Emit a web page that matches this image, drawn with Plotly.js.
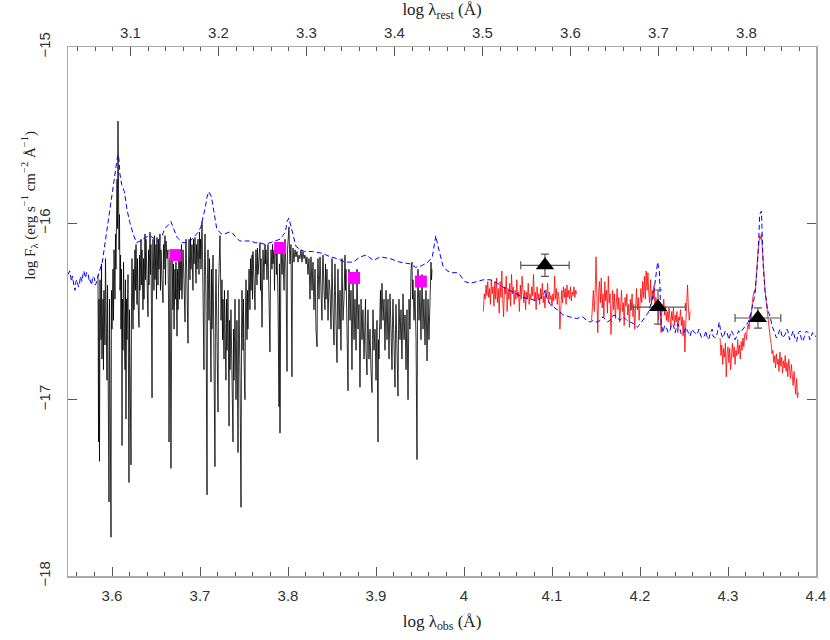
<!DOCTYPE html>
<html>
<head>
<meta charset="utf-8">
<script src="https://cdn.plot.ly/plotly-3.0.1.min.js"></script>
<style>html,body{margin:0;padding:0;background:#fff;}#chart{width:830px;height:640px;}</style>
</head>
<body>
<div id="chart"></div>
<script>
// Observed optical spectrum (log lambda_obs, log F_lambda)
const blackSpec = [
[3.5841,-16.29],[3.5847,-17.24],[3.5852,-16.43],[3.5858,-17.35],[3.5864,-16.32],[3.5875,-16.66],[3.5881,-16.23],[3.5886,-16.77],[3.5898,-16.43],[3.5903,-16.83],
[3.5909,-16.38],[3.5920,-16.69],[3.5926,-16.20],[3.5932,-16.60],[3.5943,-16.89],[3.5949,-16.35],[3.5955,-16.66],[3.5966,-17.58],[3.5972,-16.43],[3.5977,-16.72],
[3.5989,-17.78],[3.5994,-16.38],[3.6000,-16.60],[3.6011,-16.26],[3.6017,-16.55],[3.6023,-16.15],[3.6034,-16.43],[3.6040,-16.06],[3.6045,-16.26],[3.6057,-15.75],
[3.6063,-16.03],[3.6068,-15.42],[3.6074,-15.81],[3.6080,-16.15],[3.6085,-15.95],[3.6091,-16.38],[3.6097,-16.18],[3.6102,-16.60],[3.6108,-16.26],[3.6114,-17.26],
[3.6119,-16.43],[3.6125,-16.72],[3.6131,-16.22],[3.6136,-16.55],[3.6148,-16.83],[3.6153,-16.32],[3.6159,-17.11],[3.6165,-16.43],[3.6170,-16.66],[3.6182,-16.29],
[3.6188,-16.77],[3.6193,-17.47],[3.6199,-16.49],[3.6205,-16.89],[3.6216,-17.37],[3.6222,-16.43],[3.6227,-16.20],[3.6239,-16.60],[3.6244,-16.26],[3.6250,-16.49],
[3.6261,-16.15],[3.6267,-16.38],[3.6273,-16.12],[3.6284,-16.46],[3.6290,-16.20],[3.6295,-16.43],[3.6307,-16.59],[3.6313,-16.18],[3.6318,-16.38],[3.6330,-16.09],
[3.6335,-16.35],[3.6341,-16.15],[3.6352,-16.49],[3.6358,-16.20],[3.6364,-16.43],[3.6375,-16.06],[3.6381,-16.32],[3.6386,-16.09],[3.6398,-16.43],[3.6409,-16.53],
[3.6415,-16.15],[3.6420,-16.35],[3.6432,-16.05],[3.6438,-16.29],[3.6443,-16.12],[3.6455,-16.99],[3.6460,-16.26],[3.6466,-16.09],[3.6477,-16.38],[3.6483,-16.07],
[3.6489,-16.32],[3.6500,-16.12],[3.6506,-16.43],[3.6511,-16.08],[3.6523,-16.35],[3.6528,-16.09],[3.6534,-16.26],[3.6545,-16.06],[3.6551,-16.38],[3.6557,-16.15],
[3.6568,-16.32],[3.6580,-16.45],[3.6585,-16.12],[3.6591,-16.26],[3.6602,-16.07],[3.6608,-16.35],[3.6614,-16.10],[3.6625,-16.20],[3.6636,-16.15],[3.6642,-16.43],
[3.6648,-17.24],[3.6653,-16.38],[3.6659,-16.20],[3.6670,-17.39],[3.6676,-16.32],[3.6682,-16.18],[3.6693,-16.49],[3.6699,-16.23],[3.6705,-16.60],[3.6716,-16.26],
[3.6722,-16.43],[3.6727,-16.22],[3.6739,-16.64],[3.6744,-16.26],[3.6750,-16.49],[3.6761,-16.18],[3.6767,-16.43],[3.6773,-16.15],[3.6784,-16.38],[3.6790,-16.12],
[3.6795,-16.43],[3.6807,-16.15],[3.6818,-16.32],[3.6830,-16.56],[3.6835,-16.20],[3.6841,-16.09],[3.6852,-16.35],[3.6864,-16.68],[3.6869,-16.23],[3.6875,-16.09],
[3.6886,-16.32],[3.6892,-16.08],[3.6898,-16.26],[3.6909,-16.12],[3.6920,-16.38],[3.6926,-16.09],[3.6932,-16.23],[3.6943,-16.08],[3.6955,-16.34],[3.6960,-16.12],
[3.6966,-16.26],[3.6977,-16.09],[3.6989,-16.29],[3.6994,-16.05],[3.7000,-16.20],[3.7006,-16.09],[3.7011,-16.26],[3.7023,-15.99],[3.7028,-16.15],[3.7034,-16.38],
[3.7045,-16.83],[3.7051,-16.20],[3.7057,-16.06],[3.7068,-16.43],[3.7080,-17.54],[3.7085,-16.32],[3.7091,-16.15],[3.7102,-16.55],[3.7108,-16.20],[3.7114,-16.43],
[3.7125,-16.90],[3.7131,-16.26],[3.7136,-16.60],[3.7148,-16.18],[3.7153,-16.49],[3.7159,-16.72],[3.7170,-17.38],[3.7176,-16.43],[3.7182,-16.26],[3.7193,-16.66],
[3.7205,-17.07],[3.7210,-16.38],[3.7216,-16.20],[3.7227,-16.07],[3.7233,-16.26],[3.7239,-16.55],[3.7250,-16.32],[3.7256,-16.66],[3.7261,-16.43],[3.7273,-16.77],
[3.7278,-16.38],[3.7284,-16.66],[3.7295,-16.89],[3.7301,-16.43],[3.7307,-16.72],[3.7318,-16.38],[3.7330,-17.15],[3.7335,-16.55],[3.7341,-16.83],[3.7352,-16.49],
[3.7358,-16.77],[3.7364,-16.97],[3.7375,-17.24],[3.7381,-16.60],[3.7386,-16.89],[3.7398,-16.43],[3.7403,-16.72],[3.7409,-17.00],[3.7420,-16.55],[3.7432,-17.30],
[3.7438,-16.66],[3.7443,-16.43],[3.7455,-16.89],[3.7466,-17.61],[3.7472,-16.60],[3.7477,-16.38],[3.7489,-16.72],[3.7494,-16.43],[3.7500,-16.77],[3.7511,-17.00],
[3.7517,-16.49],[3.7523,-16.32],[3.7534,-16.66],[3.7540,-16.38],[3.7545,-16.60],[3.7557,-16.26],[3.7568,-16.49],[3.7574,-16.20],[3.7580,-16.38],[3.7591,-16.18],
[3.7597,-16.43],[3.7602,-16.16],[3.7614,-16.32],[3.7625,-16.49],[3.7631,-16.23],[3.7636,-16.15],[3.7648,-16.35],[3.7653,-16.14],[3.7659,-16.29],[3.7670,-16.18],
[3.7682,-16.11],[3.7688,-16.38],[3.7693,-16.20],[3.7705,-16.59],[3.7710,-16.26],[3.7716,-16.15],[3.7727,-16.32],[3.7739,-16.12],[3.7744,-16.23],[3.7750,-16.15],
[3.7761,-16.32],[3.7773,-16.12],[3.7778,-16.26],[3.7784,-16.43],[3.7795,-16.73],[3.7801,-16.29],[3.7807,-16.15],[3.7818,-16.26],[3.7824,-16.12],[3.7830,-16.23],
[3.7841,-16.15],[3.7847,-16.38],[3.7852,-16.19],[3.7864,-16.12],[3.7869,-16.29],[3.7875,-16.15],[3.7886,-16.43],[3.7898,-17.04],[3.7903,-16.23],[3.7909,-17.19],
[3.7915,-16.20],[3.7920,-16.12],[3.7932,-16.29],[3.7943,-16.15],[3.7955,-16.38],[3.7960,-16.18],[3.7966,-16.09],[3.7977,-16.26],[3.7989,-16.84],[3.7994,-16.15],
[3.8000,-16.09],[3.8011,-16.02],[3.8017,-16.15],[3.8023,-16.23],[3.8034,-16.12],[3.8045,-16.87],[3.8051,-16.20],[3.8057,-16.14],[3.8068,-16.22],[3.8080,-16.15],
[3.8091,-16.19],[3.8102,-16.16],[3.8114,-16.22],[3.8125,-16.18],[3.8136,-16.20],[3.8148,-16.15],[3.8159,-16.22],[3.8170,-16.16],[3.8182,-16.20],[3.8193,-16.18],
[3.8205,-16.23],[3.8216,-16.19],[3.8227,-16.29],[3.8239,-16.20],[3.8250,-16.43],[3.8256,-16.26],[3.8261,-16.19],[3.8273,-16.38],[3.8284,-16.22],[3.8295,-16.49],
[3.8307,-16.26],[3.8318,-16.60],[3.8330,-16.70],[3.8335,-16.32],[3.8341,-16.20],[3.8352,-16.43],[3.8364,-16.19],[3.8375,-16.38],[3.8386,-16.55],[3.8392,-16.26],
[3.8398,-16.18],[3.8409,-16.38],[3.8420,-16.49],[3.8426,-16.23],[3.8432,-16.43],[3.8443,-16.26],[3.8455,-16.55],[3.8466,-16.32],[3.8477,-16.38],[3.8489,-16.60],
[3.8494,-16.29],[3.8500,-16.20],[3.8511,-16.49],[3.8523,-16.69],[3.8528,-16.38],[3.8534,-16.23],[3.8545,-16.55],[3.8557,-16.79],[3.8563,-16.43],[3.8568,-16.26],
[3.8580,-16.60],[3.8591,-16.38],[3.8602,-16.72],[3.8608,-16.32],[3.8614,-16.20],[3.8625,-16.55],[3.8636,-16.43],[3.8648,-16.18],[3.8653,-16.38],[3.8659,-16.26],
[3.8670,-16.60],[3.8682,-16.95],[3.8688,-16.43],[3.8693,-16.26],[3.8705,-16.55],[3.8716,-16.38],[3.8727,-16.83],[3.8733,-16.43],[3.8739,-16.29],[3.8750,-16.66],
[3.8761,-16.43],[3.8773,-16.72],[3.8778,-16.38],[3.8784,-16.26],[3.8795,-16.60],[3.8807,-16.46],[3.8818,-16.93],[3.8824,-16.55],[3.8830,-16.43],[3.8841,-16.66],
[3.8852,-16.49],[3.8864,-16.77],[3.8875,-16.55],[3.8881,-16.43],[3.8886,-16.72],[3.8898,-16.86],[3.8903,-16.60],[3.8909,-16.49],[3.8920,-16.77],[3.8932,-16.60],
[3.8943,-16.83],[3.8955,-16.96],[3.8960,-16.66],[3.8966,-16.49],[3.8977,-16.72],[3.8989,-16.60],[3.9000,-16.89],[3.9006,-16.66],[3.9011,-16.55],[3.9023,-17.24],
[3.9028,-16.66],[3.9034,-16.77],[3.9045,-16.49],[3.9051,-16.38],[3.9057,-16.60],[3.9068,-16.34],[3.9080,-16.55],[3.9091,-16.43],[3.9102,-16.72],[3.9108,-16.49],
[3.9114,-16.38],[3.9125,-16.66],[3.9136,-16.43],[3.9148,-16.77],[3.9153,-16.55],[3.9159,-16.40],[3.9170,-16.60],[3.9182,-16.83],[3.9188,-16.55],[3.9193,-16.43],
[3.9205,-16.69],[3.9216,-16.93],[3.9222,-16.60],[3.9227,-16.46],[3.9239,-16.72],[3.9250,-16.98],[3.9256,-16.60],[3.9261,-16.43],[3.9273,-16.66],[3.9284,-16.49],
[3.9295,-16.77],[3.9301,-16.55],[3.9307,-16.40],[3.9318,-16.66],[3.9330,-16.52],[3.9341,-16.83],[3.9347,-16.60],[3.9352,-16.49],[3.9364,-17.00],[3.9369,-16.55],
[3.9375,-16.43],[3.9386,-16.60],[3.9392,-16.38],[3.9398,-16.26],[3.9409,-16.22],[3.9415,-16.43],[3.9420,-16.32],[3.9432,-16.55],[3.9443,-16.38],[3.9455,-16.66],
[3.9466,-17.34],[3.9472,-16.43],[3.9477,-16.26],[3.9489,-16.55],[3.9500,-16.38],[3.9511,-16.66],[3.9517,-16.43],[3.9523,-16.29],[3.9534,-16.60],[3.9545,-16.43],
[3.9557,-16.69],[3.9563,-16.49],[3.9568,-16.38],[3.9580,-16.78],[3.9585,-16.55],[3.9591,-16.43],[3.9602,-16.66],[3.9614,-16.38],[3.9625,-16.22],[3.9631,-16.32],
[3.9636,-16.26]
];

// Near-IR spectrum, three windows
const redSpec1 = [
[4.022,-16.50],[4.023,-16.40],[4.024,-16.43],[4.025,-16.35],[4.026,-16.41],[4.027,-16.33],[4.028,-16.42],[4.029,-16.37],[4.030,-16.46],[4.031,-16.32],
[4.032,-16.40],[4.033,-16.36],[4.034,-16.47],[4.035,-16.33],[4.036,-16.43],[4.037,-16.31],[4.038,-16.45],[4.039,-16.37],[4.040,-16.51],[4.041,-16.33],
[4.042,-16.42],[4.043,-16.27],[4.044,-16.43],[4.045,-16.53],[4.046,-16.36],[4.047,-16.40],[4.048,-16.30],[4.049,-16.50],[4.050,-16.37],[4.051,-16.43],
[4.052,-16.34],[4.053,-16.47],[4.054,-16.29],[4.055,-16.40],[4.056,-16.36],[4.057,-16.46],[4.058,-16.38],[4.059,-16.43],[4.060,-16.32],[4.061,-16.42],
[4.062,-16.39],[4.063,-16.50],[4.064,-16.35],[4.065,-16.43],[4.066,-16.30],[4.067,-16.40],[4.068,-16.45],[4.069,-16.38],[4.070,-16.49],[4.071,-16.39],
[4.072,-16.43],[4.073,-16.34],[4.074,-16.46],[4.075,-16.40],[4.076,-16.43],[4.077,-16.36],[4.078,-16.41],[4.079,-16.29],[4.080,-16.44],[4.081,-16.39],
[4.082,-16.49],[4.083,-16.36],[4.084,-16.43],[4.085,-16.40],[4.086,-16.46],[4.087,-16.37],[4.088,-16.43],[4.089,-16.34],[4.090,-16.45],[4.091,-16.41],
[4.092,-16.48],[4.093,-16.38],[4.094,-16.42],[4.095,-16.34],[4.096,-16.45],[4.097,-16.39],[4.098,-16.43],[4.099,-16.41],[4.100,-16.47],[4.101,-16.40],
[4.102,-16.44],[4.103,-16.30],[4.104,-16.43],[4.105,-16.37],[4.106,-16.46],[4.107,-16.39],[4.108,-16.43],[4.109,-16.60],[4.110,-16.41],[4.111,-16.38],
[4.112,-16.45],[4.113,-16.36],[4.114,-16.42],[4.115,-16.37],[4.116,-16.46],[4.117,-16.35],[4.118,-16.42],[4.119,-16.38],[4.120,-16.43],[4.121,-16.36],
[4.122,-16.44],[4.123,-16.39],[4.124,-16.41],[4.125,-16.36],[4.126,-16.42],[4.127,-16.38],[4.128,-16.40]
];
const redSpec2 = [
[4.145,-16.55],[4.146,-16.47],[4.147,-16.38],[4.148,-16.50],[4.149,-16.40],[4.150,-16.19],[4.151,-16.43],[4.152,-16.62],[4.153,-16.40],[4.154,-16.33],
[4.155,-16.45],[4.156,-16.31],[4.157,-16.48],[4.158,-16.40],[4.159,-16.53],[4.160,-16.33],[4.161,-16.44],[4.162,-16.38],[4.163,-16.51],[4.164,-16.30],
[4.165,-16.45],[4.166,-16.40],[4.167,-16.63],[4.168,-16.42],[4.169,-16.38],[4.170,-16.49],[4.171,-16.40],[4.172,-16.54],[4.173,-16.43],[4.174,-16.37],
[4.175,-16.49],[4.176,-16.42],[4.177,-16.56],[4.178,-16.43],[4.179,-16.38],[4.180,-16.50],[4.181,-16.45],[4.182,-16.58],[4.183,-16.42],[4.184,-16.47],
[4.185,-16.40],[4.186,-16.52],[4.187,-16.46],[4.188,-16.59],[4.189,-16.43],[4.190,-16.49],[4.191,-16.40],[4.192,-16.53],[4.193,-16.46],[4.194,-16.60],
[4.195,-16.43],[4.196,-16.37],[4.197,-16.49],[4.198,-16.42],[4.199,-16.55],[4.200,-16.43],[4.201,-16.37],[4.202,-16.45],[4.203,-16.33],[4.204,-16.42],
[4.205,-16.30],[4.206,-16.43],[4.207,-16.27],[4.208,-16.38],[4.209,-16.28],[4.210,-16.40],[4.211,-16.45],[4.212,-16.32],[4.213,-16.46],[4.214,-16.38],
[4.215,-16.43],[4.216,-16.35],[4.217,-16.49],[4.218,-16.42],[4.219,-16.46],[4.220,-16.43],[4.221,-16.55],[4.222,-16.46],[4.223,-16.49],[4.224,-16.62],
[4.225,-16.46],[4.226,-16.50],[4.227,-16.43],[4.228,-16.52],[4.229,-16.47],[4.230,-16.55],[4.231,-16.50],[4.232,-16.56],[4.233,-16.48],[4.234,-16.53],
[4.235,-16.59],[4.236,-16.50],[4.237,-16.55],[4.238,-16.48],[4.239,-16.58],[4.240,-16.52],[4.241,-16.56],[4.242,-16.50],[4.243,-16.62],[4.244,-16.53],
[4.245,-16.55],[4.246,-16.49],[4.247,-16.58],[4.248,-16.53],[4.249,-16.64],[4.250,-16.55],[4.251,-16.73],[4.252,-16.57],[4.253,-16.43],[4.254,-16.35],
[4.255,-16.48],[4.256,-16.55],[4.257,-16.50]
];
const redSpec3 = [
[4.291,-16.65],[4.292,-16.75],[4.293,-16.69],[4.294,-16.80],[4.295,-16.71],[4.296,-16.76],[4.297,-16.68],[4.298,-16.87],[4.299,-16.74],[4.300,-16.70],
[4.301,-16.79],[4.302,-16.71],[4.303,-16.83],[4.304,-16.73],[4.305,-16.68],[4.306,-16.76],[4.307,-16.70],[4.308,-16.80],[4.309,-16.72],[4.310,-16.75],
[4.311,-16.66],[4.312,-16.74],[4.313,-16.69],[4.314,-16.77],[4.315,-16.67],[4.316,-16.72],[4.317,-16.65],[4.318,-16.70],[4.319,-16.63],[4.320,-16.62],
[4.321,-16.66],[4.322,-16.59],[4.323,-16.57],[4.324,-16.60],[4.325,-16.52],[4.326,-16.55],[4.327,-16.46],[4.328,-16.43],[4.329,-16.40],[4.330,-16.38],
[4.331,-16.39],[4.332,-16.29],[4.333,-16.26],[4.334,-16.17],[4.335,-16.12],[4.336,-16.07],[4.337,-16.09],[4.338,-16.06],[4.339,-16.15],[4.340,-16.20],
[4.341,-16.29],[4.342,-16.38],[4.343,-16.43],[4.344,-16.49],[4.345,-16.53],[4.346,-16.56],[4.347,-16.62],[4.348,-16.65],[4.349,-16.68],[4.350,-16.74],
[4.351,-16.72],[4.352,-16.79],[4.353,-16.75],[4.354,-16.82],[4.355,-16.74],[4.356,-16.80],[4.357,-16.77],[4.358,-16.84],[4.359,-16.73],[4.360,-16.81],
[4.361,-16.76],[4.362,-16.85],[4.363,-16.78],[4.364,-16.82],[4.365,-16.75],[4.366,-16.84],[4.367,-16.79],[4.368,-16.87],[4.369,-16.77],[4.370,-16.83],
[4.371,-16.88],[4.372,-16.80],[4.373,-16.85],[4.374,-16.92],[4.375,-16.84],[4.376,-16.90],[4.377,-16.97],[4.378,-16.88],[4.379,-16.99],[4.380,-16.96]
];

// Template (blue dashed)
const templateSpec = [
[3.550,-16.29],[3.552,-16.27],[3.554,-16.33],[3.555,-16.30],[3.557,-16.36],[3.558,-16.38],[3.559,-16.33],[3.560,-16.32],[3.562,-16.36],[3.563,-16.35],
[3.564,-16.30],[3.566,-16.33],[3.567,-16.29],[3.568,-16.27],[3.570,-16.31],[3.571,-16.28],[3.573,-16.28],[3.574,-16.33],[3.575,-16.32],[3.577,-16.35],
[3.578,-16.30],[3.580,-16.31],[3.581,-16.35],[3.582,-16.34],[3.584,-16.30],[3.586,-16.27],[3.589,-16.22],[3.591,-16.15],
[3.593,-16.08],[3.595,-16.01],[3.598,-15.89],[3.600,-15.81],[3.602,-15.74],[3.605,-15.66],[3.606,-15.63],[3.607,-15.61],[3.608,-15.64],[3.609,-15.72],
[3.611,-15.78],[3.614,-15.82],[3.617,-15.92],[3.620,-15.99],[3.624,-16.06],[3.628,-16.11],[3.632,-16.10],[3.638,-16.08],[3.643,-16.07],[3.649,-16.09],
[3.652,-16.10],[3.657,-16.07],[3.660,-16.03],[3.664,-16.01],[3.667,-15.99],[3.670,-16.03],[3.674,-16.08],[3.680,-16.11],[3.684,-16.11],[3.689,-16.10],
[3.693,-16.08],[3.698,-16.05],[3.701,-16.02],[3.703,-15.98],[3.706,-15.91],[3.708,-15.85],[3.710,-15.82],[3.713,-15.85],[3.715,-15.92],[3.717,-15.99],
[3.719,-16.03],[3.724,-16.06],[3.728,-16.06],[3.733,-16.05],[3.736,-16.05],[3.741,-16.08],[3.745,-16.10],[3.751,-16.10],[3.757,-16.10],[3.763,-16.11],
[3.768,-16.11],[3.774,-16.12],[3.780,-16.11],[3.785,-16.10],[3.791,-16.09],[3.794,-16.07],[3.797,-16.05],[3.799,-15.99],[3.801,-15.97],[3.803,-16.01],
[3.806,-16.07],[3.809,-16.13],[3.814,-16.15],[3.819,-16.16],[3.828,-16.16],[3.839,-16.17],[3.848,-16.19],[3.856,-16.20],[3.865,-16.22],[3.874,-16.22],
[3.882,-16.19],[3.889,-16.18],[3.897,-16.21],[3.905,-16.19],[3.916,-16.20],[3.927,-16.22],[3.939,-16.23],[3.945,-16.25],[3.952,-16.24],[3.959,-16.22],
[3.964,-16.19],[3.966,-16.14],[3.968,-16.07],[3.970,-16.12],[3.973,-16.19],[3.976,-16.24],[3.981,-16.27],[3.986,-16.28],[3.992,-16.28],[3.995,-16.29],
[4.001,-16.33],[4.007,-16.34],[4.015,-16.33],[4.022,-16.32],[4.030,-16.32],[4.038,-16.34],[4.044,-16.36],[4.052,-16.38],[4.060,-16.40],[4.067,-16.42],
[4.075,-16.43],[4.083,-16.44],[4.090,-16.41],[4.092,-16.38],[4.094,-16.42],[4.098,-16.46],[4.106,-16.49],[4.113,-16.52],[4.120,-16.53],[4.128,-16.54],
[4.135,-16.53],[4.139,-16.55],[4.143,-16.56],[4.147,-16.55],[4.151,-16.56],[4.155,-16.55],[4.158,-16.53],[4.163,-16.56],[4.166,-16.55],[4.170,-16.52],
[4.174,-16.53],[4.177,-16.55],[4.181,-16.53],[4.185,-16.55],[4.189,-16.56],[4.193,-16.57],[4.197,-16.59],[4.200,-16.57],[4.203,-16.55],[4.207,-16.53],
[4.209,-16.51],[4.211,-16.48],[4.214,-16.43],[4.216,-16.38],[4.218,-16.30],[4.219,-16.25],[4.220,-16.22],[4.222,-16.27],[4.223,-16.43],[4.224,-16.56],
[4.226,-16.62],[4.228,-16.58],[4.230,-16.59],[4.232,-16.62],[4.234,-16.61],[4.236,-16.57],[4.238,-16.58],[4.240,-16.62],[4.241,-16.60],[4.243,-16.57],
[4.245,-16.59],[4.247,-16.63],[4.250,-16.62],[4.252,-16.59],[4.255,-16.62],[4.257,-16.64],[4.259,-16.60],[4.262,-16.62],[4.265,-16.63],[4.267,-16.60],
[4.268,-16.62],[4.270,-16.65],[4.273,-16.64],[4.275,-16.61],[4.276,-16.64],[4.278,-16.66],[4.280,-16.62],[4.282,-16.60],[4.283,-16.64],[4.286,-16.65],
[4.288,-16.62],[4.290,-16.56],[4.292,-16.62],[4.294,-16.65],[4.295,-16.64],[4.297,-16.61],[4.299,-16.62],[4.301,-16.66],[4.302,-16.64],[4.304,-16.61],
[4.306,-16.63],[4.308,-16.66],[4.310,-16.64],[4.312,-16.61],[4.314,-16.62],[4.317,-16.60],[4.320,-16.58],[4.323,-16.56],[4.325,-16.53],[4.327,-16.49],
[4.330,-16.42],[4.331,-16.38],[4.333,-16.26],[4.334,-16.19],[4.335,-16.08],[4.336,-15.95],[4.338,-15.93],[4.339,-16.09],[4.340,-16.24],[4.342,-16.38],
[4.343,-16.43],[4.345,-16.49],[4.348,-16.53],[4.350,-16.58],[4.353,-16.62],[4.355,-16.65],[4.357,-16.63],[4.359,-16.60],[4.360,-16.61],[4.362,-16.65],
[4.365,-16.63],[4.367,-16.60],[4.368,-16.61],[4.370,-16.66],[4.372,-16.64],[4.374,-16.61],[4.376,-16.65],[4.378,-16.67],[4.380,-16.62],[4.382,-16.61],
[4.383,-16.65],[4.385,-16.67],[4.387,-16.64],[4.389,-16.61],[4.391,-16.62],[4.393,-16.66],[4.394,-16.65],[4.396,-16.62],[4.398,-16.64],[4.400,-16.64]
];

// Photometry
const photX = [3.672, 3.791, 3.875, 3.951];
const photY = [-16.18, -16.14, -16.31, -16.33];

const triX = [4.092, 4.2205, 4.334];
const triY = [-16.238, -16.475, -16.537];
const triXerr = [0.0275, 0.031, 0.026];
const triYerr = [0.063, 0.097, 0.057];

// Axis tick labels
const obsTicks = [3.6, 3.7, 3.8, 3.9, 4.0, 4.1, 4.2, 4.3, 4.4];
const obsTickText = ['3.6', '3.7', '3.8', '3.9', '4', '4.1', '4.2', '4.3', '4.4'];
const restTicks = [3.1, 3.2, 3.3, 3.4, 3.5, 3.6, 3.7, 3.8];
const yTicks = [-18, -17, -16, -15];
const restOffset = 0.521;

const xs = a => a.map(p => p[0]);
const ys = a => a.map(p => p[1]);

const tickFont = {family: 'Liberation Sans, Arial, sans-serif', size: 15, color: '#333'};
const titleFont = {family: 'Liberation Serif, Times New Roman, serif', size: 17, color: '#222'};
const yTitleFont = {family: 'Liberation Serif, Times New Roman, serif', size: 15, color: '#222'};

const traces = [
  {x: xs(blackSpec), y: ys(blackSpec), mode: 'lines', line: {color: '#000', width: 0.8}, hoverinfo: 'skip'},
  {x: xs(redSpec1), y: ys(redSpec1), mode: 'lines', line: {color: '#ff0000', width: 0.8}, hoverinfo: 'skip'},
  {x: xs(redSpec2), y: ys(redSpec2), mode: 'lines', line: {color: '#ff0000', width: 0.8}, hoverinfo: 'skip'},
  {x: xs(redSpec3), y: ys(redSpec3), mode: 'lines', line: {color: '#ff0000', width: 0.8}, hoverinfo: 'skip'},
  {x: xs(templateSpec), y: ys(templateSpec), mode: 'lines', line: {color: '#0000ff', width: 1, dash: '5px,3px'}, hoverinfo: 'skip'},
  {x: photX, y: photY, mode: 'markers', marker: {symbol: 'square', size: 12, color: '#ff00ff'}, hoverinfo: 'skip'},
  {x: triX, y: triY, mode: 'markers', marker: {symbol: 'triangle-up', size: 16, color: '#000'},
   error_x: {type: 'data', array: triXerr, color: '#555', thickness: 1.2, width: 4},
   error_y: {type: 'data', array: triYerr, color: '#555', thickness: 1.2, width: 4}, hoverinfo: 'skip'},
  {x: [3.55 - restOffset, 4.4 - restOffset], y: [-20, -20], xaxis: 'x2', mode: 'markers', marker: {opacity: 0}, hoverinfo: 'skip'}
];

const axisCommon = {
  showgrid: false, zeroline: false, showline: true, linecolor: '#aaaaaa', linewidth: 1.5,
  ticks: 'inside', ticklen: 9, tickwidth: 1, tickcolor: '#555', tickfont: tickFont
};

const layout = {
  width: 830, height: 640,
  margin: {l: 68, r: 14, t: 47, b: 64},
  paper_bgcolor: '#fff', plot_bgcolor: '#fff',
  showlegend: false,
  xaxis: Object.assign({}, axisCommon, {
    range: [3.55, 4.4], tickvals: obsTicks, ticktext: obsTickText,
    minor: {dtick: 0.02, tick0: 3.6, ticks: 'inside', ticklen: 4, tickcolor: '#555'},
    ticklabelstandoff: 5,
    title: {text: 'log λ<sub>obs</sub> (Å)', font: titleFont, standoff: 12}
  }),
  xaxis2: Object.assign({}, axisCommon, {
    overlaying: 'x', side: 'top', anchor: 'y',
    range: [3.55 - restOffset, 4.4 - restOffset], tickvals: restTicks,
    minor: {dtick: 0.02, tick0: 3.1, ticks: 'inside', ticklen: 4, tickcolor: '#555'},
    ticklabelstandoff: 2,
    title: {text: 'log λ<sub>rest</sub> (Å)', font: titleFont, standoff: 6}
  }),
  yaxis: Object.assign({}, axisCommon, {
    range: [-18, -15], tickvals: yTicks, mirror: 'ticks', tickangle: -90,
    ticklabelstandoff: 11
  }),
  annotations: [{
    text: 'log F<sub>λ</sub> (erg s<sup>−1</sup> cm<sup>−2</sup> Å<sup>−1</sup>)',
    xref: 'paper', yref: 'paper', x: -0.052, y: 0.70, textangle: -90,
    showarrow: false, font: yTitleFont, xanchor: 'center', yanchor: 'middle'
  }]
};

Plotly.newPlot('chart', traces, layout, {staticPlot: true, displayModeBar: false});
</script>
</body>
</html>
